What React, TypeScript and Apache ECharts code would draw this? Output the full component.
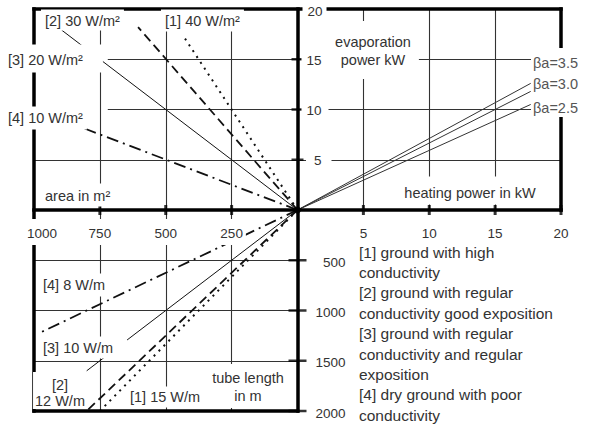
import React, { useEffect, useRef } from "react";
import * as echarts from "echarts";

// ---- tick values ----
const evapTicks = [5, 10, 15, 20]; // kW (up)
const heatTicks = [5, 10, 15, 20]; // kW (right)
const areaTicks = [1000, 750, 500, 250]; // m² (left)
const tubeTicks = [500, 1000, 1500, 2000]; // m (down)

// ---- area lines (top-left), end points ----
const areaLabels = ["[1] 40 W/m²", "[2] 30 W/m²", "[3] 20 W/m²", "[4] 10 W/m²"];
const areaLineArea = [428, 605, 895, 837]; // m²
const areaLineEvap = [17.1, 18.2, 17.9, 8.4]; // kW

// ---- tube lines (bottom-left) ----
const tubeLabels = ["[1] 15 W/m", "[2]\n12 W/m", "[3] 10 W/m", "[4] 8 W/m"];
const tubeLineArea = [750, 800, 800, 980]; // m²
const tubeLineLength = [2000, 2000, 1600, 1225]; // m

// ---- βa lines (top-right) ----
const betaLabels = ["βa=3.5", "βa=3.0", "βa=2.5"];
const betaHeat = [17.7, 17.7, 17.7]; // kW
const betaEvap = [12.6, 11.8, 10.5]; // kW

const legendLines = [
  "[1] ground with high",
  "conductivity",
  "[2] ground with regular",
  "conductivity good exposition",
  "[3] ground with regular",
  "conductivity and regular",
  "exposition",
  "[4] dry ground with poor",
  "conductivity",
];

const leftGridStartArea = 720; // upper grid lines in the area quadrant start here

// axis mapping helpers (chart units)
const AREA_PER_UNIT = 50;
const TUBE_PER_UNIT = 100;
const ax = (a: number) => -a / AREA_PER_UNIT;
const ty = (l: number) => -l / TUBE_PER_UNIT;

const FONT = '"Liberation Sans", Arial, sans-serif';
const TEXT = "#333";

const lineStyles: any[] = [
  { color: "#111", width: 2, type: [2, 5] },
  { color: "#111", width: 1.8, type: [9, 5] },
  { color: "#111", width: 1, type: "solid" },
  { color: "#111", width: 1.8, type: [12, 5, 2, 5] },
];

export default function App() {
  const ref = useRef<HTMLDivElement>(null);

  useEffect(() => {
    const chart = echarts.init(ref.current!, null, { renderer: "svg" });

    // grid segments
    const thinSegs: number[][][] = [];
    heatTicks.slice(0, 3).forEach((h) => thinSegs.push([[h, 0], [h, 20]]));
    evapTicks.slice(0, 3).forEach((e) => thinSegs.push([[0, e], [20, e]]));
    areaTicks.slice(1).forEach((a) => {
      thinSegs.push([[ax(a), 0], [ax(a), 20]]);
      thinSegs.push([[ax(a), 0], [ax(a), -20]]);
    });
    evapTicks.slice(0, 3).forEach((e) =>
      thinSegs.push([[e === 5 ? -20 : ax(leftGridStartArea), e], [0, e]])
    );
    tubeTicks.slice(0, 3).forEach((l) => thinSegs.push([[-20, ty(l)], [0, ty(l)]]));

    const thickSegs: number[][][] = [
      [[-20, 0], [20, 0]],
      [[0, -20], [0, 20]],
      [[-20, 20], [20, 20]],
      [[20, 0], [20, 20]],
      [[-20, -20], [-20, 20]],
      [[-20, -20], [0, -20]],
    ];

    const series: any[] = [
      {
        type: "lines",
        coordinateSystem: "cartesian2d",
        clip: false,
        silent: true,
        z: 2,
        lineStyle: { color: "#333", width: 1.1, opacity: 1 },
        data: thinSegs.map((c) => ({ coords: c })),
      },
    ];
    // diagonal lines
    areaLineArea.forEach((a, i) =>
      series.push({
        type: "line",
        clip: false,
        silent: true,
        symbol: "none",
        z: 3,
        lineStyle: lineStyles[i],
        data: [[0, 0], [ax(a), areaLineEvap[i]]],
      })
    );
    tubeLineArea.forEach((a, i) =>
      series.push({
        type: "line",
        clip: false,
        silent: true,
        symbol: "none",
        z: 3,
        lineStyle: lineStyles[i],
        data: [[0, 0], [ax(a), ty(tubeLineLength[i])]],
      })
    );
    betaHeat.forEach((h, i) =>
      series.push({
        type: "line",
        clip: false,
        silent: true,
        symbol: "none",
        z: 3,
        lineStyle: { color: "#333", width: 1 },
        data: [[0, 0], [h, betaEvap[i]]],
      })
    );
    series.push({
      type: "lines",
      coordinateSystem: "cartesian2d",
      clip: false,
      silent: true,
      z: 4,
      lineStyle: { color: "#000", width: 3.5, opacity: 1, cap: "square" },
      data: thickSegs.map((c) => ({ coords: c })),
    });
    // ticks
    series.push({
      type: "scatter",
      silent: true,
      clip: false,
      z: 5,
      symbol: "rect",
      symbolSize: [3, 10],
      itemStyle: { color: "#000" },
      data: [
        ...heatTicks.map((h) => [h, 0]),
        ...areaTicks.slice(1).map((a) => [ax(a), 0]),
      ],
    });
    series.push({
      type: "scatter",
      silent: true,
      clip: false,
      z: 5,
      symbol: "rect",
      symbolSize: [12, 2.5],
      itemStyle: { color: "#000" },
      data: evapTicks.slice(0, 3).map((e) => [0, e]),
    });
    series.push({
      type: "scatter",
      silent: true,
      clip: false,
      z: 5,
      symbol: "rect",
      symbolSize: [18, 2.5],
      itemStyle: { color: "#000" },
      data: tubeTicks.map((l) => [0, ty(l)]),
    });
    series.push({
      type: "scatter",
      silent: true,
      clip: false,
      z: 5,
      symbol: "circle",
      symbolSize: 7,
      itemStyle: { color: "#000" },
      data: [[0, 0]],
    });

    chart.setOption({
      animation: false,
      grid: { left: 34, top: 9, width: 527, height: 402 },
      xAxis: { type: "value", min: -20, max: 20, show: false },
      yAxis: { type: "value", min: -20, max: 20, show: false },
      series,
    });

    const px = (x: number, y: number) =>
      chart.convertToPixel({ gridIndex: 0 }, [x, y]) as number[];

    const graphic: any[] = [];
    const label = (
      text: string,
      anchorX: number,
      cy: number,
      align: "left" | "right" | "center",
      size: number,
      pad: number[],
      opts: { lh?: number; fill?: string; bg?: boolean } = {}
    ) => {
      const lh = opts.lh ?? Math.round(size * 1.2);
      const n = text.split("\n").length;
      const x =
        align === "left"
          ? anchorX - pad[3]
          : align === "right"
          ? anchorX + pad[1]
          : anchorX - (pad[3] - pad[1]) / 2;
      const y = cy - (n * lh) / 2 - pad[0];
      const style: any = {
        text,
        font: `${size}px ${FONT}`,
        fill: opts.fill ?? TEXT,
        align,
        verticalAlign: "top",
        textAlign: align,
        textVerticalAlign: "top",
        lineHeight: lh,
        padding: pad,
      };
      if (opts.bg !== false) style.backgroundColor = "#fff";
      graphic.push({ type: "text", x, y, z: 100, silent: true, style });
    };

    const [ox, oy] = px(0, 0);

    // evaporation ticks
    evapTicks.forEach((e) => {
      const [, y] = px(0, e);
      if (e === 20) label(String(e), ox + 10, y + 2, "left", 13.5, [2, 4, 2, 5]);
      else label(String(e), ox + 24, y + 1, "right", 13.5, [2, e === 5 ? 10 : 7, 2, e === 5 ? 8 : 5]);
    });
    // heating ticks
    heatTicks.forEach((h) => {
      const [x] = px(h, 0);
      label(String(h), x, oy + 23, "center", 13.5, [6, 3, 4, 3]);
    });
    // area ticks
    areaTicks.forEach((a, i) => {
      const [x] = px(ax(a), 0);
      label(String(a), x + (i === 0 ? 8 : 0), oy + 23, "center", 13.5, [6, 3, 4, 3]);
    });
    // tube ticks
    tubeTicks.forEach((l) => {
      const [, y] = px(0, ty(l));
      label(String(l), ox + 48, y + 2, "right", 13.5, [1, 1, 1, 1], { bg: false });
    });

    // axis titles
    label("evaporation\npower kW", 373, 51, "center", 14.5, [12, 8, 10, 8], { lh: 18 });
    label("heating power in kW", 470, 193, "center", 14.5, [8, 6, 3, 6]);
    label("area in m²", 45, 196, "left", 14.5, [4, 4, 2, 4]);
    label("tube length\nin m", 248, 387, "center", 14.5, [5, 4, 3, 4], { lh: 18 });

    // area line labels (order [1],[2],[3],[4])
    label(areaLabels[0], 165, 21, "left", 14.5, [3, 4, 2, 4]);
    label(areaLabels[1], 45, 21, "left", 14.5, [3, 4, 1, 4]);
    label(areaLabels[2], 8, 60, "left", 14.5, [7, 20, 4, 3]);
    label(areaLabels[3], 8, 118, "left", 14.5, [3, 4, 3, 3]);

    // tube line labels
    label(tubeLabels[0], 130, 397, "left", 14.5, [2, 4, 2, 4]);
    label(tubeLabels[1], 60, 393, "center", 14.5, [5, 2, 0, 2], { lh: 16 });
    label(tubeLabels[2], 43, 348, "left", 14.5, [3, 14, 2, 4]);
    label(tubeLabels[3], 43, 285, "left", 14.5, [3, 4, 3, 4]);

    // beta labels
    graphic.push({
      type: "rect",
      z: 99,
      silent: true,
      shape: { x: 531, y: 48, width: 58, height: 69 },
      style: { fill: "#fff" },
    });
    const betaY = [63, 84, 108];
    betaLabels.forEach((t, i) =>
      label(t, 533, betaY[i], "left", 14.5, [0, 0, 0, 0], { fill: "#555", bg: false })
    );

    // legend
    legendLines.forEach((t, i) =>
      label(t, 359, 252 + i * 20.4, "left", 15.5, [0, 0, 0, 0], { bg: false })
    );

    chart.setOption({ graphic });

    return () => chart.dispose();
  }, []);

  return (
    <div
      ref={ref}
      style={{ position: "fixed", left: 0, top: 0, width: 589, height: 426, background: "#fff" }}
    />
  );
}
